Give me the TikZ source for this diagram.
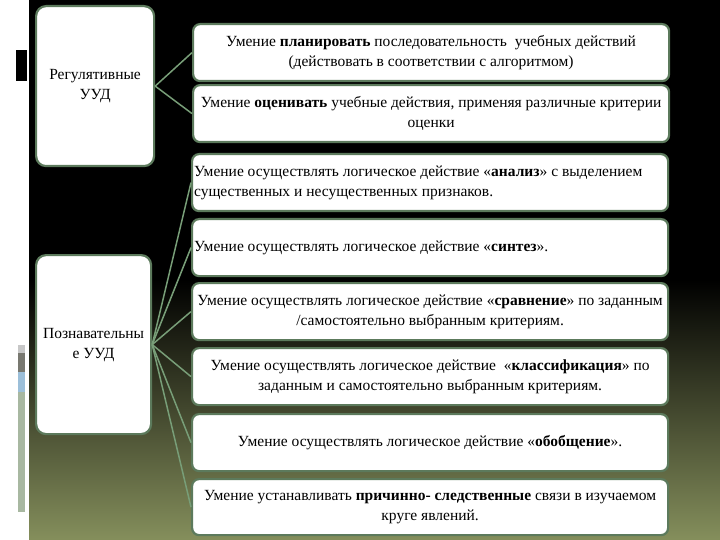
\documentclass[tikz,border=0pt]{standalone}
\usepackage{fontspec}
\setmainfont{Liberation Serif}
\definecolor{olivebg}{rgb}{0.52, 0.56, 0.36}
\definecolor{boxedge}{rgb}{0.36, 0.48, 0.36}
\definecolor{linkgreen}{rgb}{0.47, 0.62, 0.47}
\definecolor{stripgray}{rgb}{0.78, 0.78, 0.78}
\definecolor{stripdark}{rgb}{0.47, 0.47, 0.44}
\definecolor{stripblue}{rgb}{0.61, 0.75, 0.85}
\definecolor{stripgreen}{rgb}{0.66, 0.72, 0.63}

\begin{document}
\begin{tikzpicture}[x=1pt, y=-1pt,
    groupbox/.style={draw=boxedge, line width=2.2pt, fill=white, rounded corners=10pt,
      anchor=north west, align=center, font=\fontsize{15.5}{20}\selectfont},
    skillbox/.style={draw=boxedge, line width=2.2pt, fill=white, rounded corners=7pt,
      anchor=north west, minimum height=57pt, minimum width=476pt, inner xsep=2pt,
      align=center, font=\fontsize{15.5}{20}\selectfont},
    leftbox/.style={skillbox, text width=472pt, align=flush left},
    link/.style={draw=linkgreen, line width=1.5pt}]
    \useasboundingbox (0,0) rectangle (720,540);

    \fill [white] (0,0) rectangle (29,540);
    \fill [black] (29,0) rectangle (720,540);
    \shade [top color=black, bottom color=olivebg] (29,280) rectangle (720,540);

    \fill [black] (16,50) rectangle (27,81);
    \fill [stripgray] (18,345) rectangle (25,353);
    \fill [stripdark] (18,353) rectangle (25,372);
    \fill [stripblue] (18,372) rectangle (25,392);
    \fill [stripgreen] (18,392) rectangle (25,512);

    \node [groupbox, minimum width=118pt, minimum height=160pt] (g1) at (35,5) {Регулятивные\\УУД};
    \node [groupbox, minimum width=115pt, minimum height=179pt] (g2) at (35,254) {Познавательны\\е УУД};

    \node [skillbox] (s1) at (192,23) {Умение \textbf{планировать} последовательность~ учебных действий\\(действовать в соответствии с алгоритмом)};
    \node [skillbox] (s2) at (192,84) {Умение \textbf{оценивать} учебные действия, применяя различные критерии\\оценки};
    \node [leftbox] (s3) at (191,153) {Умение осуществлять логическое действие «\textbf{анализ}» с выделением\\существенных и несущественных признаков.};
    \node [leftbox] (s4) at (191,218) {Умение осуществлять логическое действие «\textbf{синтез}».};
    \node [skillbox] (s5) at (191,282) {Умение осуществлять логическое действие «\textbf{сравнение}» по заданным\\/самостоятельно выбранным критериям.};
    \node [skillbox] (s6) at (191,347) {Умение осуществлять логическое действие~ «\textbf{классификация}» по\\заданным и самостоятельно выбранным критериям.};
    \node [skillbox] (s7) at (191,413) {Умение осуществлять логическое действие «\textbf{обобщение}».};
    \node [skillbox, minimum height=56pt] (s8) at (191,478) {Умение устанавливать \textbf{причинно- следственные} связи в изучаемом\\круге явлений.};

    \draw [link] (g1.east) -- (s1.west);
    \draw [link] (g1.east) -- (s2.west);
    \foreach \i in {3,...,8}{
      \draw [link] (g2.east) -- (s\i.west);
    }
  \end{tikzpicture}
\end{document}
